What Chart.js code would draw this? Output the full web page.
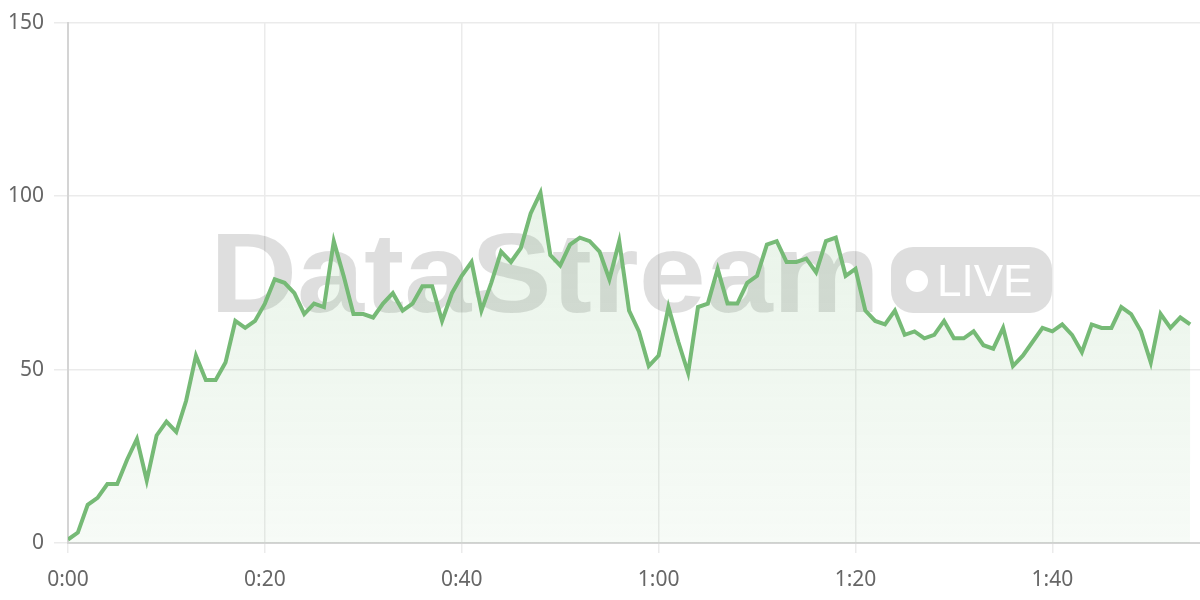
<!DOCTYPE html>
<html>
<head>
<meta charset="utf-8">
<script src="https://cdn.jsdelivr.net/npm/chart.js@4"></script>
<style>
  html, body { margin: 0; padding: 0; background: #fff; }
  #wrap { width: 1200px; height: 600px; }
</style>
</head>
<body>
<div id="wrap"><canvas id="chart" width="1200" height="600"></canvas></div>
<script>
// values per minute, 0:00 .. 1:54
const values = [
  1, 3, 11, 13, 17, 17, 24, 30, 18, 31, 35, 32, 41, 54, 47, 47, 52, 64, 62, 64,
  69, 76, 75, 72, 66, 69, 68, 87, 77, 66, 66, 65, 69, 72, 67, 69, 74, 74, 64, 72,
  77, 81, 67, 75, 84, 81, 85, 95, 101, 83, 80, 86, 88, 87, 84, 76, 87, 67, 61, 51,
  54, 68, 58, 49, 68, 69, 79, 69, 69, 75, 77, 86, 87, 81, 81, 82, 78, 87, 88, 77,
  79, 67, 64, 63, 67, 60, 61, 59, 60, 64, 59, 59, 61, 57, 56, 62, 51, 54, 58, 62,
  61, 63, 60, 55, 63, 62, 62, 68, 66, 61, 52, 66, 62, 65, 63
];
const xTicks = [0, 20, 40, 60, 80, 100];
const xTickLabels = ['0:00', '0:20', '0:40', '1:00', '1:20', '1:40'];
const yTicks = [0, 50, 100, 150];

const lineColor = 'rgb(118, 186, 118)';
const points = values.map((v, i) => ({ x: i, y: v }));

// watermark "DataStream  • LIVE" behind the line
const watermark = {
  id: 'watermark',
  beforeDatasetsDraw(chart) {
    const c = chart.ctx;
    c.save();
    c.fillStyle = 'rgba(0, 0, 0, 0.13)';
    c.font = 'bold 114px "Liberation Sans", Arial, sans-serif';
    c.textBaseline = 'alphabetic';
    const w = c.measureText('DataStream').width;
    c.translate(210, 312);
    c.scale(670 / w, 1);
    c.fillText('DataStream', 0, 0);
    c.restore();

    c.save();
    c.fillStyle = 'rgba(0, 0, 0, 0.13)';
    c.beginPath();
    c.roundRect(891, 247, 161, 66, 22);
    c.fill();
    c.fillStyle = '#fff';
    c.beginPath();
    c.arc(917, 281, 11, 0, Math.PI * 2);
    c.fill();
    c.font = '44px "Liberation Sans", Arial, sans-serif';
    c.fillText('LIVE', 937, 296);
    c.restore();
  }
};

const tickFont = { family: '"Noto Sans", Lato, sans-serif', size: 21 };

const ctx = document.getElementById('chart').getContext('2d');
new Chart(ctx, {
  type: 'line',
  data: {
    datasets: [{
      data: points,
      borderColor: lineColor,
      borderWidth: 4,
      pointRadius: 0,
      tension: 0,
      fill: 'origin',
      backgroundColor(context) {
        const area = context.chart.chartArea;
        if (!area) return 'rgba(118,186,118,0.12)';
        const g = context.chart.ctx.createLinearGradient(0, area.top, 0, area.bottom);
        g.addColorStop(0, 'rgba(118, 186, 118, 0.22)');
        g.addColorStop(1, 'rgba(118, 186, 118, 0.06)');
        return g;
      }
    }]
  },
  options: {
    responsive: false,
    animation: false,
    layout: { padding: { top: 20, right: 0, left: 0, bottom: 0 } },
    plugins: {
      legend: { display: false },
      tooltip: { enabled: false }
    },
    scales: {
      x: {
        type: 'linear',
        min: 0,
        max: 115,
        afterFit(scale) { scale.height = 57; },
        afterBuildTicks(scale) { scale.ticks = xTicks.map(v => ({ value: v })); },
        ticks: {
          color: '#666',
          font: tickFont,
          padding: 14,
          maxRotation: 0,
          callback(v) { return xTickLabels[xTicks.indexOf(v)]; }
        },
        grid: { color: '#ebebeb', lineWidth: 1.5, tickLength: 10 },
        border: { color: '#d4d4d4', width: 2 }
      },
      y: {
        min: 0,
        max: 150,
        afterFit(scale) { scale.width = 68; },
        afterBuildTicks(scale) { scale.ticks = yTicks.map(v => ({ value: v })); },
        ticks: {
          color: '#666',
          font: tickFont,
          padding: 10
        },
        grid: { color: '#ebebeb', lineWidth: 1.5, tickLength: 14 },
        border: { color: '#d4d4d4', width: 2 }
      }
    }
  },
  plugins: [watermark]
});
</script>
</body>
</html>
